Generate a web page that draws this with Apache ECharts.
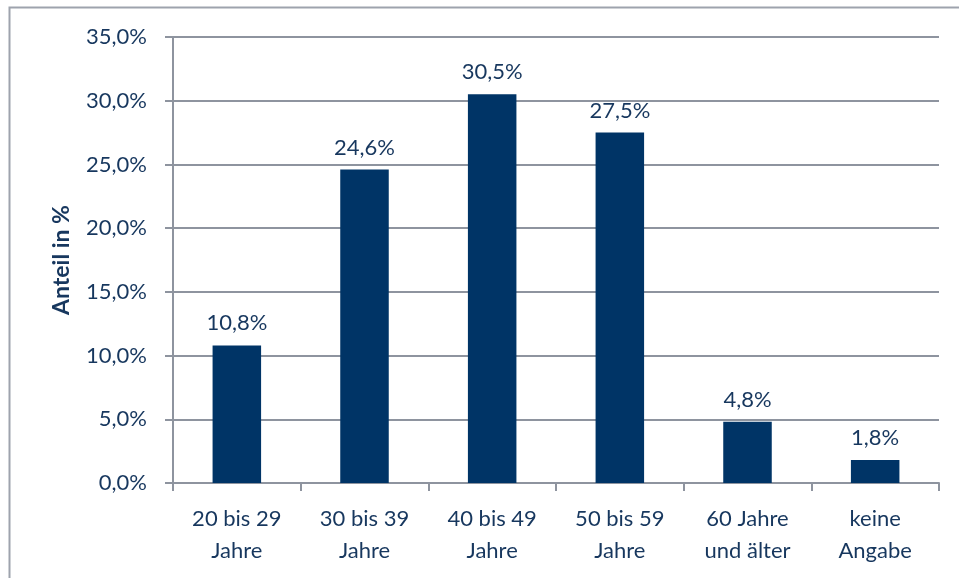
<!DOCTYPE html>
<html>
<head>
<meta charset="utf-8">
<script src="https://cdn.jsdelivr.net/npm/echarts@6/dist/echarts.min.js"></script>
<style>
  html, body { margin: 0; padding: 0; background: #fff; }
  #chart { width: 959px; height: 578px; }
</style>
</head>
<body>
<div id="chart"></div>
<script>
const categories = ['20 bis 29\nJahre', '30 bis 39\nJahre', '40 bis 49\nJahre', '50 bis 59\nJahre', '60 Jahre\nund älter', 'keine\nAngabe'];
const shares = [10.8, 24.6, 30.5, 27.5, 4.8, 1.8];
const yTicks = { min: 0, max: 35, interval: 5 };

const textColor = '#17375e';
const gridColor = '#8e949f';

function pct(v) {
    return v.toFixed(1).replace('.', ',') + '%';
}

const chart = echarts.init(document.getElementById('chart'), null, { renderer: 'canvas' });

chart.setOption({
    backgroundColor: '#fff',
    animation: false,
    textStyle: { fontFamily: 'Lato, "Open Sans", sans-serif' },
    graphic: [{
        type: 'rect',
        shape: { x: 9.5, y: 7.5, width: 1000, height: 1000 },
        style: { fill: 'none', stroke: '#9ea3ad', lineWidth: 2 },
        silent: true
    }],
    grid: { left: 173, right: 20, top: 37, bottom: 95 },
    xAxis: {
        type: 'category',
        data: categories,
        axisLine: { lineStyle: { color: gridColor, width: 2 } },
        axisTick: { show: true, length: 8, lineStyle: { color: gridColor, width: 2 } },
        axisLabel: { color: textColor, fontSize: 22, lineHeight: 32, margin: 20 }
    },
    yAxis: {
        type: 'value',
        min: yTicks.min,
        max: yTicks.max,
        interval: yTicks.interval,
        name: 'Anteil in %',
        nameLocation: 'middle',
        nameGap: 100,
        nameTextStyle: { color: textColor, fontSize: 23, fontWeight: 'bold' },
        axisLine: { show: true, lineStyle: { color: gridColor, width: 2 } },
        axisTick: { show: true, length: 8, lineStyle: { color: gridColor, width: 2 } },
        splitLine: { lineStyle: { color: gridColor, width: 2 } },
        axisLabel: { color: textColor, fontSize: 22, margin: 26, formatter: pct }
    },
    series: [{
        type: 'bar',
        data: shares,
        barWidth: '38%',
        itemStyle: { color: '#003466' },
        label: {
            show: true,
            position: 'top',
            distance: 11,
            color: textColor,
            fontSize: 22,
            formatter: p => pct(p.value)
        }
    }]
});
</script>
</body>
</html>
